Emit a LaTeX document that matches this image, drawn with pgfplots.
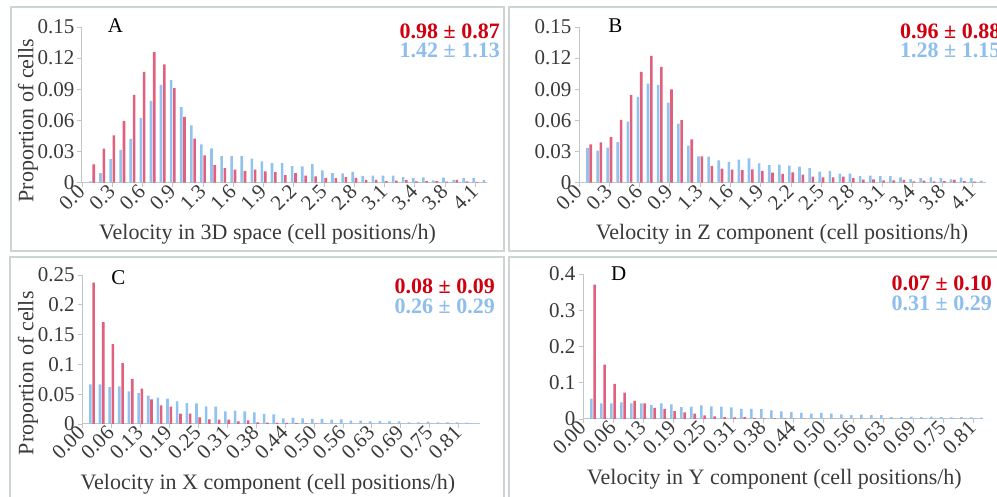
\documentclass[border=0pt]{standalone}
\usepackage{fontspec}
\setmainfont{Liberation Serif}
\usepackage{pgfplots}
\usepackage{pgfplotstable}
\pgfplotsset{compat=1.18}

\definecolor{barred}{HTML}{E0607E}
\definecolor{barblue}{HTML}{92C2EE}
\definecolor{txtred}{HTML}{D00010}
\definecolor{txtblue}{HTML}{8EBEEC}
\definecolor{axisgray}{HTML}{BFC6C6}
\definecolor{framegray}{HTML}{CDD4D4}
\definecolor{ticktext}{HTML}{3A3A3A}

% i = bin index, blue / red = proportion of cells
\pgfplotstableread{
i blue red
1 0.0013 0.0177
2 0.0093 0.0328
3 0.0228 0.0457
4 0.0315 0.0595
5 0.0421 0.0846
6 0.0621 0.1068
7 0.0788 0.1258
8 0.0943 0.1139
9 0.0988 0.0910
10 0.0727 0.0634
11 0.0553 0.0425
12 0.0370 0.0264
13 0.0330 0.0171
14 0.0257 0.0141
15 0.0257 0.0125
16 0.0255 0.0113
17 0.0233 0.0127
18 0.0206 0.0109
19 0.0188 0.0103
20 0.0188 0.0072
21 0.0159 0.0091
22 0.0158 0.0069
23 0.0180 0.0062
24 0.0119 0.0046
25 0.0092 0.0043
26 0.0090 0.0054
27 0.0104 0.0046
28 0.0066 0.0028
29 0.0068 0.0026
30 0.0069 0.0016
31 0.0069 0.0020
32 0.0054 0.0024
33 0.0045 0.0012
34 0.0051 0.0014
35 0.0022 0.0014
36 0.0050 0.0010
37 0.0028 0.0026
38 0.0043 0.0013
39 0.0043 0.0008
40 0.0024 0.0000
}\dataA

\pgfplotstableread{
i blue red
1 0.0335 0.0370
2 0.0309 0.0389
3 0.0338 0.0438
4 0.0392 0.0605
5 0.0589 0.0846
6 0.0827 0.1068
7 0.0955 0.1222
8 0.0939 0.1116
9 0.0772 0.0898
10 0.0569 0.0602
11 0.0357 0.0418
12 0.0254 0.0254
13 0.0250 0.0162
14 0.0215 0.0135
15 0.0200 0.0125
16 0.0222 0.0122
17 0.0235 0.0129
18 0.0186 0.0113
19 0.0170 0.0096
20 0.0174 0.0084
21 0.0164 0.0100
22 0.0154 0.0077
23 0.0141 0.0058
24 0.0106 0.0051
25 0.0113 0.0051
26 0.0087 0.0058
27 0.0087 0.0045
28 0.0064 0.0029
29 0.0068 0.0032
30 0.0064 0.0023
31 0.0064 0.0023
32 0.0051 0.0026
33 0.0035 0.0013
34 0.0045 0.0019
35 0.0051 0.0013
36 0.0045 0.0016
37 0.0032 0.0026
38 0.0048 0.0016
39 0.0045 0.0010
40 0.0019 0.0000
}\dataB

\pgfplotstableread{
i blue red
1 0.0666 0.2370
2 0.0666 0.1710
3 0.0620 0.1340
4 0.0632 0.1020
5 0.0548 0.0755
6 0.0520 0.0593
7 0.0475 0.0414
8 0.0442 0.0313
9 0.0425 0.0291
10 0.0380 0.0173
11 0.0352 0.0173
12 0.0347 0.0112
13 0.0296 0.0078
14 0.0291 0.0073
15 0.0213 0.0073
16 0.0224 0.0045
17 0.0213 0.0062
18 0.0196 0.0028
19 0.0168 0.0025
20 0.0162 0.0020
21 0.0095 0.0020
22 0.0106 0.0015
23 0.0095 0.0010
24 0.0084 0.0005
25 0.0084 0.0005
26 0.0073 0
27 0.0078 0
28 0.0056 0
29 0.0056 0
30 0.0045 0
31 0.0050 0
32 0.0045 0
33 0.0045 0
34 0.0028 0
35 0.0028 0
36 0.0039 0
37 0.0028 0
38 0.0028 0
39 0.0028 0
40 0.0022 0
}\dataC

\pgfplotstableread{
i blue red
1 0.0560 0.3710
2 0.0430 0.1500
3 0.0430 0.0970
4 0.0460 0.0730
5 0.0430 0.0500
6 0.0430 0.0430
7 0.0385 0.0310
8 0.0430 0.0280
9 0.0400 0.0220
10 0.0330 0.0180
11 0.0340 0.0147
12 0.0376 0.0100
13 0.0350 0.0073
14 0.0340 0.0055
15 0.0320 0.0046
16 0.0280 0.0055
17 0.0280 0.0028
18 0.0270 0.0020
19 0.0240 0.0020
20 0.0210 0.0015
21 0.0190 0.0010
22 0.0170 0.0010
23 0.0150 0.0005
24 0.0170 0.0005
25 0.0150 0
26 0.0130 0
27 0.0110 0
28 0.0120 0
29 0.0110 0
30 0.0110 0
31 0.0055 0
32 0.0055 0
33 0.0064 0
34 0.0055 0
35 0.0064 0
36 0.0055 0
37 0.0046 0
38 0.0055 0
39 0.0046 0
40 0.0037 0
}\dataD

\pgfplotsset{
  panel/.style={
    scale only axis, anchor=south west,
    xmin=0, ymin=0,
    axis lines*=left,
    axis line style={draw=axisgray, line width=1pt},
    tick style={draw=axisgray, line width=0.8pt},
    tick align=outside, major tick length=4.5pt,
    xtick={0,3,...,39},
    /pgf/number format/assume math mode=true,
    ticklabel style={font=\fontsize{21}{21}\selectfont, text=ticktext},
    x tick label style={rotate=45, anchor=east, inner sep=1pt},
    y tick label style={inner sep=3pt},
  },
  blues/.style={ybar, bar width=2.6pt, bar shift=-1.65pt, fill=barblue, draw=none},
  reds/.style={ybar, bar width=2.6pt, bar shift=1.65pt, fill=barred, draw=none},
}

\begin{document}
\begin{tikzpicture}[x=1pt, y=1pt]
\useasboundingbox (0,0) rectangle (997,497);
\fill[white] (0,0) rectangle (997,497);

% panel frames
\begin{scope}
\clip (0,0) rectangle (997,497);
\draw[framegray, line width=1.5pt] (11,490) rectangle (504,246);
\draw[framegray, line width=1.5pt] (509,490) rectangle (1010,246);
\draw[framegray, line width=1.5pt] (10,240) rectangle (504,-10);
\draw[framegray, line width=1.5pt] (509,240) rectangle (1010,-10);
\end{scope}

% A
\begin{axis}[panel, at={(82pt,314.3pt)}, width=405pt, height=155.7pt,
  xmax=40.15, ymax=0.15,
  ytick={0,0.03,0.06,0.09,0.12,0.15}, yticklabels={0,0.03,0.06,0.09,0.12,0.15},
  xticklabels={0.0,0.3,0.6,0.9,1.3,1.6,1.9,2.2,2.5,2.8,3.1,3.4,3.8,4.1}]
\addplot[blues] table[x=i, y=blue] {\dataA};
\addplot[reds] table[x=i, y=red] {\dataA};
\end{axis}

% B
\begin{axis}[panel, at={(579pt,314.3pt)}, width=407pt, height=155.7pt,
  xmax=40.3, ymax=0.15,
  ytick={0,0.03,0.06,0.09,0.12,0.15}, yticklabels={0,0.03,0.06,0.09,0.12,0.15},
  xticklabels={0.0,0.3,0.6,0.9,1.3,1.6,1.9,2.2,2.5,2.8,3.1,3.4,3.8,4.1}]
\addplot[blues] table[x=i, y=blue] {\dataB};
\addplot[reds] table[x=i, y=red] {\dataB};
\end{axis}

% C
\begin{axis}[panel, at={(82.3pt,73pt)}, width=397.7pt, height=149pt,
  xmax=41.2, ymax=0.25,
  ytick={0,0.05,0.1,0.15,0.2,0.25}, yticklabels={0,0.05,0.1,0.15,0.2,0.25},
  xticklabels={0.00,0.06,0.13,0.19,0.25,0.31,0.38,0.44,0.50,0.56,0.63,0.69,0.75,0.81}]
\addplot[blues] table[x=i, y=blue] {\dataC};
\addplot[reds] table[x=i, y=red] {\dataC};
\end{axis}

% D
\begin{axis}[panel, at={(583pt,78pt)}, width=400pt, height=145pt,
  xmax=40, ymax=0.4,
  ytick={0,0.1,0.2,0.3,0.4}, yticklabels={0,0.1,0.2,0.3,0.4},
  xticklabels={0.00,0.06,0.13,0.19,0.25,0.31,0.38,0.44,0.50,0.56,0.63,0.69,0.75,0.81}]
\addplot[blues] table[x=i, y=blue] {\dataD};
\addplot[reds] table[x=i, y=red] {\dataD};
\end{axis}

% labels
\begin{scope}[every node/.style={font=\fontsize{22}{22}\selectfont, text=ticktext, inner sep=0pt}]
\node[anchor=base] at (267.5,257) {Velocity in 3D space (cell positions/h)};
\node[anchor=base] at (782,257) {Velocity in Z component (cell positions/h)};
\node[anchor=base] at (268,7.7) {Velocity in X component (cell positions/h)};
\node[anchor=base] at (774.5,12) {Velocity in Y component (cell positions/h)};
\node[anchor=base, rotate=90] at (33.3,376.5) {Proportion of cells};
\node[anchor=base, rotate=90] at (33.3,123.7) {Proportion of cells};
\end{scope}

\begin{scope}[every node/.style={font=\fontsize{21}{21}\selectfont, text=black, inner sep=0pt, anchor=base}]
\node at (115.5,464) {A};
\node at (615.3,464.5) {B};
\node at (118.3,212.7) {C};
\node at (618.7,216.3) {D};
\end{scope}

\begin{scope}[every node/.style={font=\fontsize{22}{22}\selectfont\bfseries, inner sep=0pt, anchor=base east}]
\node[text=txtred] at (500,458.7) {0.98 ± 0.87};
\node[text=txtblue] at (500,439.7) {1.42 ± 1.13};
\node[text=txtred] at (1000.5,458.7) {0.96 ± 0.88};
\node[text=txtblue] at (1000.5,439.7) {1.28 ± 1.15};
\node[text=txtred] at (495,203.7) {0.08 ± 0.09};
\node[text=txtblue] at (495,183.7) {0.26 ± 0.29};
\node[text=txtred] at (992,206.3) {0.07 ± 0.10};
\node[text=txtblue] at (992,186) {0.31 ± 0.29};
\end{scope}
\end{tikzpicture}
\end{document}
